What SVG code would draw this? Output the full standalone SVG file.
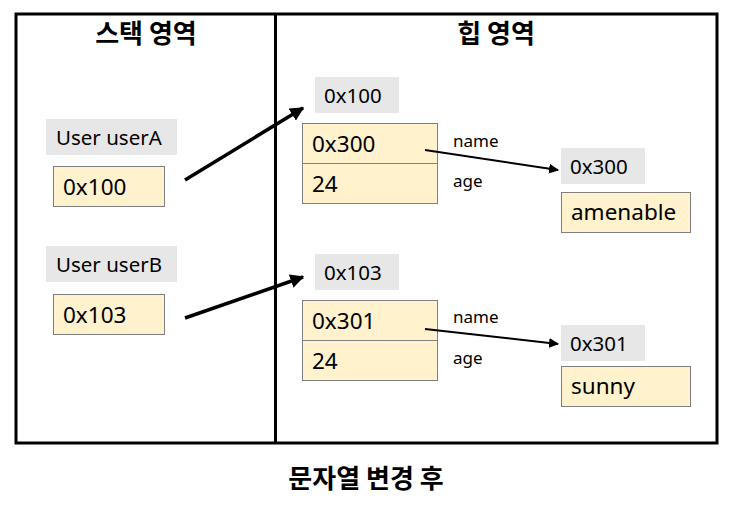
<svg xmlns="http://www.w3.org/2000/svg" width="733" height="513" viewBox="0 0 733 513">
<defs>
<style>
.t{font-family:"Noto Sans","Noto Sans CJK KR",sans-serif;fill:#000}
.title{font-family:"Noto Sans CJK KR",sans-serif;font-weight:bold;font-size:26px;text-anchor:middle}
.lbl{fill:#e7e7e7}
.val{fill:#fff2cc;stroke:#7f7f7f;stroke-width:1}
.big{font-size:22.5px}
.mid{font-size:20.5px}
.sm{font-size:17px}
.conn{stroke:#000;fill:none}
</style>
<marker id="ah" viewBox="0 0 10 10" refX="9" refY="5" markerWidth="4" markerHeight="4" orient="auto" markerUnits="strokeWidth"><path d="M0,0 L10,5 L0,10 z" fill="#000"/></marker>
<marker id="ah2" viewBox="0 0 10 10" refX="9" refY="5" markerWidth="5" markerHeight="5" orient="auto" markerUnits="strokeWidth"><path d="M0,0 L10,5 L0,10 z" fill="#000"/></marker>
</defs>
<rect width="733" height="513" fill="#fff"/>
<g id="frame">
<rect x="16" y="14" width="701" height="429" fill="none" stroke="#000" stroke-width="3"/>
<line x1="275.5" y1="14" x2="275.5" y2="443" stroke="#000" stroke-width="3"/>
</g>
<g id="stack-title"><text class="title" x="146" y="43">스택 영역</text></g>
<g id="heap-title"><text class="title" x="496" y="43">힙 영역</text></g>

<g id="userA">
<rect class="lbl" x="46" y="119" width="131" height="36"/>
<text class="t mid" x="56" y="145">User userA</text>
<rect class="val" x="53.5" y="166.5" width="111" height="40"/>
<text class="t big" x="63" y="195">0x100</text>
</g>
<g id="userB">
<rect class="lbl" x="46" y="246" width="131" height="36"/>
<text class="t mid" x="56" y="272">User userB</text>
<rect class="val" x="53.5" y="294.5" width="111" height="40"/>
<text class="t big" x="63" y="323">0x103</text>
</g>

<g id="obj100">
<rect class="lbl" x="315" y="77" width="84" height="36"/>
<text class="t mid" x="324" y="103">0x100</text>
<rect class="val" x="302.5" y="123.5" width="135" height="40"/>
<rect class="val" x="302.5" y="163.5" width="135" height="40"/>
<text class="t big" x="312" y="152">0x300</text>
<text class="t big" x="312" y="192">24</text>
<text class="t sm" x="453" y="147">name</text>
<text class="t sm" x="453" y="187">age</text>
</g>
<g id="str300">
<rect class="lbl" x="561" y="148" width="84" height="36"/>
<text class="t mid" x="570" y="174">0x300</text>
<rect class="val" x="561.5" y="192.5" width="129" height="40"/>
<text class="t big" x="571" y="220">amenable</text>
</g>

<g id="obj103">
<rect class="lbl" x="315" y="254" width="84" height="36"/>
<text class="t mid" x="324" y="280">0x103</text>
<rect class="val" x="302.5" y="300.5" width="135" height="40"/>
<rect class="val" x="302.5" y="340.5" width="135" height="40"/>
<text class="t big" x="312" y="329">0x301</text>
<text class="t big" x="312" y="369">24</text>
<text class="t sm" x="453" y="323">name</text>
<text class="t sm" x="453" y="364">age</text>
</g>
<g id="str301">
<rect class="lbl" x="561" y="325" width="84" height="36"/>
<text class="t mid" x="570" y="351">0x301</text>
<rect class="val" x="561.5" y="366.5" width="129" height="40"/>
<text class="t big" x="571" y="394">sunny</text>
</g>

<g id="connectors">
<line class="conn" x1="185" y1="180" x2="303" y2="108" stroke-width="3.5" marker-end="url(#ah)"/>
<line class="conn" x1="185" y1="318" x2="303" y2="277" stroke-width="3.5" marker-end="url(#ah)"/>
<line class="conn" x1="425" y1="150" x2="558" y2="170" stroke-width="2" marker-end="url(#ah2)"/>
<line class="conn" x1="425" y1="329" x2="558" y2="344" stroke-width="2" marker-end="url(#ah2)"/>
</g>

<g id="caption"><text class="title" x="366" y="488">문자열 변경 후</text></g>
</svg>
